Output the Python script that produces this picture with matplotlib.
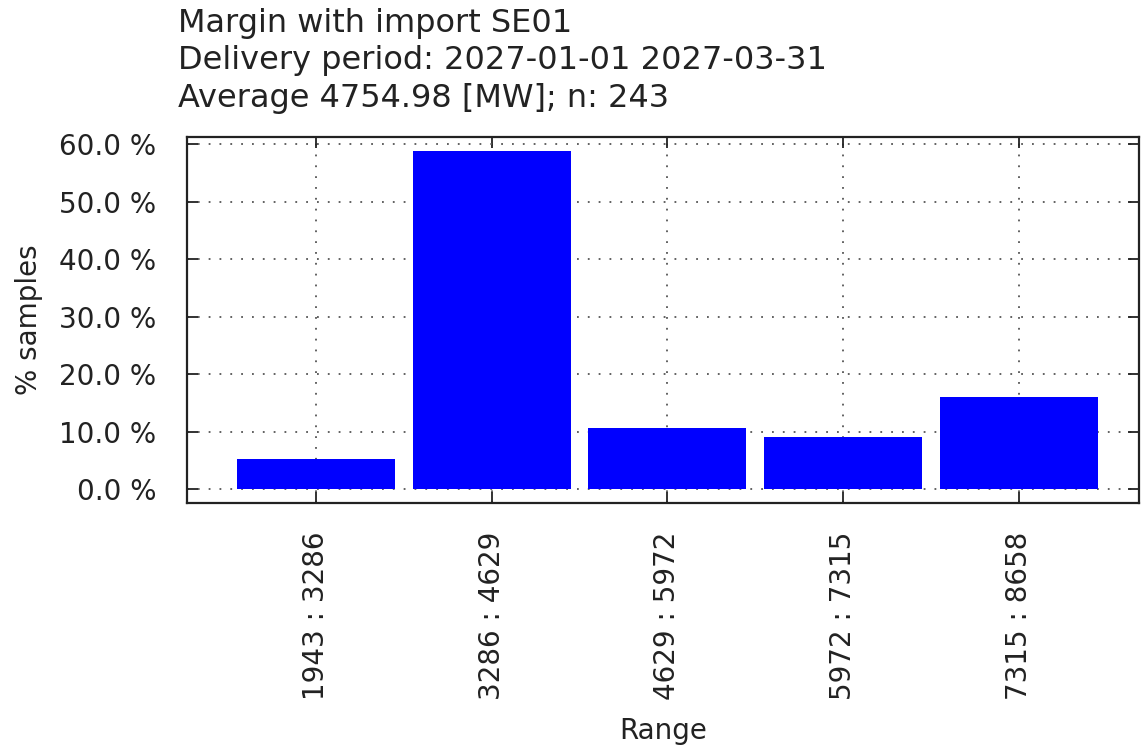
import matplotlib
matplotlib.use("Agg")
import matplotlib.pyplot as plt
from matplotlib.ticker import FuncFormatter

# values
ranges = ["1943 : 3286", "3286 : 4629", "4629 : 5972", "5972 : 7315", "7315 : 8658"]
pct_samples = [5.35, 58.85, 10.70, 9.05, 16.05]
y_ticks = [0, 10, 20, 30, 40, 50, 60]

title_lines = [
    "Margin with import SE01",
    "Delivery period: 2027-01-01 2027-03-31",
    "Average 4754.98 [MW]; n: 243",
]

plt.rcParams["font.family"] = ["DejaVu Sans"]

fig = plt.figure(figsize=(11.41, 7.49), dpi=100)
ax = fig.add_axes([0.164, 0.329, 0.834, 0.488])

x = list(range(len(ranges)))
ax.bar(x, pct_samples, width=0.9, color="#0000ff", zorder=2)

ax.set_xlim(-0.734, 4.683)
ax.set_ylim(-2.3, 61.2)
ax.set_xticks(x)
ax.set_xticklabels(ranges, rotation=90)
ax.set_yticks(y_ticks)
ax.yaxis.set_major_formatter(FuncFormatter(lambda v, p: f"{v:.1f} %"))

ax.grid(True, linestyle=(0, (1, 5)), color="#555555", linewidth=1.3, zorder=0)
ax.set_axisbelow(True)

ax.tick_params(axis="both", direction="in", length=8, width=1.3,
               top=True, right=True, labelsize=20, colors="#222222")
ax.tick_params(axis="y", pad=22)
ax.tick_params(axis="x", pad=21)
for s in ax.spines.values():
    s.set_linewidth(1.6)
    s.set_color("#222222")

ax.set_ylabel("% samples", fontsize=20, color="#222222", labelpad=12)
ax.set_xlabel("Range", fontsize=20, color="#222222", labelpad=12)

fig.text(178 / 1141, 1 - 8 / 749, "\n".join(title_lines), ha="left", va="top",
         fontsize=23, color="#222222", linespacing=1.27)

fig.savefig("out.png", dpi=100)
